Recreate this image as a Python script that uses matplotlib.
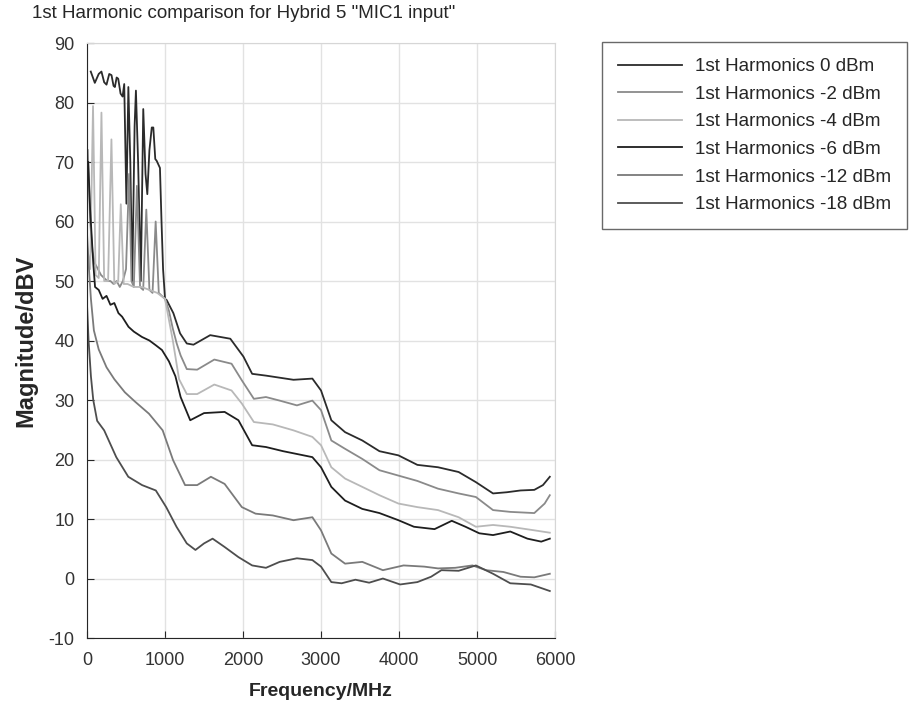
import matplotlib
matplotlib.use("Agg")
import matplotlib.pyplot as plt

plt.rcParams["font.family"] = ["Liberation Sans", "DejaVu Sans"]
plt.rcParams["axes.unicode_minus"] = False

# 0 dBm
freq_0 = [48, 100, 150, 185, 220, 250, 285, 314, 340, 357, 380, 400, 430, 456, 477, 505,
          530, 555, 580, 610, 627, 655, 690, 721, 750, 773, 800, 830, 850, 875, 893, 935,
          955, 975, 1000, 1021, 1107, 1193, 1279, 1365, 1579, 1837, 2005, 2117, 2294, 2647,
          2889, 3000, 3132, 3308, 3529, 3749, 3992, 4235, 4500, 4764, 4985, 5205, 5382,
          5558, 5734, 5845, 5933]
mag_0 = [85.2, 83.3, 84.8, 85.2, 83.4, 83.0, 84.8, 84.6, 82.8, 82.6, 84.2, 84.0, 81.5,
         81.0, 83.1, 63.0, 82.6, 70.0, 50.0, 76.0, 82.0, 70.0, 50.0, 78.9, 68.0, 64.6, 72.0,
         75.8, 75.8, 70.5, 70.2, 69.0, 60.0, 52.0, 47.0, 46.8, 44.6, 41.2, 39.5, 39.3, 40.9,
         40.3, 37.3, 34.4, 34.1, 33.4, 33.6, 31.6, 26.6, 24.6, 23.2, 21.4, 20.7, 19.1, 18.7,
         17.9, 16.2, 14.3, 14.5, 14.8, 14.9, 15.7, 17.1]

# -2 dBm
freq_2 = [10, 40, 70, 100, 140, 180, 220, 260, 300, 340, 380, 420, 460, 500, 540, 570, 600,
          640, 680, 720, 760, 800, 840, 880, 920, 960, 1000, 1050, 1100, 1150, 1200, 1279,
          1412, 1632, 1853, 1985, 2139, 2294, 2470, 2691, 2889, 3000, 3132, 3308, 3529, 3749,
          3992, 4235, 4500, 4764, 4985, 5205, 5426, 5734, 5867, 5933]
mag_2 = [72, 60, 55, 53, 52, 51, 50.5, 50, 50, 49.5, 50, 49, 50, 52, 68, 50, 49, 66, 49,
         48.5, 62, 48.5, 48, 60, 48, 47.5, 47, 45, 42, 39.5, 37.5, 35.2, 35.1, 36.8, 36.1,
         33.3, 30.2, 30.5, 29.9, 29.1, 29.9, 28.3, 23.2, 21.8, 20.1, 18.2, 17.3, 16.4, 15.1,
         14.3, 13.7, 11.5, 11.2, 11.0, 12.6, 14.0]

# -4 dBm
freq_4 = [0, 40, 77, 110, 150, 185, 220, 270, 313, 350, 400, 433, 470, 520, 600, 700, 800,
          900, 1000, 1100, 1180, 1279, 1412, 1632, 1853, 1985, 2139, 2382, 2647, 2889, 3000,
          3132, 3308, 3529, 3749, 3992, 4235, 4500, 4764, 4985, 5205, 5426, 5734, 5933]
mag_4 = [56, 52, 79.4, 51, 50.5, 78.3, 50, 50, 73.8, 49.5, 50, 62.9, 49.5, 49.5, 49, 49,
         48.5, 48, 47, 40, 33.5, 31.0, 31.0, 32.6, 31.6, 29.4, 26.3, 25.9, 24.9, 23.8, 22.4,
         18.7, 16.8, 15.4, 14.0, 12.6, 12.0, 11.5, 10.3, 8.7, 9.0, 8.7, 8.1, 7.7]

# -6 dBm
freq_6 = [15, 40, 80, 103, 150, 200, 250, 300, 350, 403, 450, 532, 600, 704, 800, 882, 961,
          1050, 1133, 1200, 1323, 1500, 1764, 1941, 2117, 2294, 2514, 2889, 3000, 3132, 3308,
          3529, 3749, 3992, 4191, 4455, 4676, 4852, 5029, 5205, 5426, 5646, 5823, 5933]
mag_6 = [70, 62, 53, 49.0, 48.5, 47.0, 47.5, 46.0, 46.3, 44.6, 44.0, 42.3, 41.5, 40.6,
         40.0, 39.2, 38.4, 36.5, 34.0, 30.5, 26.6, 27.8, 28.0, 26.6, 22.4, 22.1, 21.4, 20.4,
         18.7, 15.4, 13.1, 11.7, 11.0, 9.8, 8.7, 8.3, 9.7, 8.7, 7.6, 7.3, 7.9, 6.7, 6.2, 6.7]

# -12 dBm
freq_12 = [0, 20, 50, 88, 150, 250, 350, 485, 618, 794, 970, 1103, 1257, 1412, 1588, 1764,
           1985, 2161, 2382, 2647, 2889, 3000, 3132, 3308, 3529, 3793, 4058, 4323, 4500,
           4720, 4941, 5117, 5338, 5558, 5734, 5933]
mag_12 = [58, 53, 47, 41.7, 38.5, 35.5, 33.5, 31.3, 29.7, 27.7, 24.9, 19.9, 15.7, 15.7,
          17.1, 15.9, 12.0, 10.9, 10.6, 9.8, 10.3, 8.1, 4.2, 2.5, 2.8, 1.4, 2.2, 2.0, 1.7,
          1.8, 2.2, 1.4, 1.1, 0.3, 0.2, 0.8]

# -18 dBm
freq_18 = [0, 20, 50, 80, 130, 220, 375, 529, 706, 882, 1015, 1147, 1279, 1390, 1500, 1610,
           1764, 1941, 2117, 2294, 2470, 2691, 2889, 3000, 3132, 3264, 3441, 3617, 3793,
           4014, 4235, 4411, 4543, 4764, 4985, 5205, 5426, 5690, 5933]
mag_18 = [46, 40, 34, 30, 26.5, 24.9, 20.4, 17.1, 15.7, 14.8, 12.0, 8.7, 5.9, 4.8, 5.9,
          6.7, 5.3, 3.6, 2.2, 1.8, 2.8, 3.4, 3.1, 2.0, -0.6, -0.8, -0.2, -0.7, 0.0, -1.0,
          -0.6, 0.3, 1.4, 1.3, 2.2, 0.8, -0.8, -1.0, -2.1]

labels = ["1st Harmonics 0 dBm", "1st Harmonics -2 dBm", "1st Harmonics -4 dBm",
          "1st Harmonics -6 dBm", "1st Harmonics -12 dBm", "1st Harmonics -18 dBm"]
x_ticks = [0, 1000, 2000, 3000, 4000, 5000, 6000]
y_ticks = [-10, 0, 10, 20, 30, 40, 50, 60, 70, 80, 90]

series = [(freq_0, mag_0), (freq_2, mag_2), (freq_4, mag_4),
          (freq_6, mag_6), (freq_12, mag_12), (freq_18, mag_18)]
colors = ["#2b2b2b", "#8a8a8a", "#b8b8b8", "#1e1e1e", "#7a7a7a", "#4e4e4e"]

fig = plt.figure(figsize=(9.15, 7.12), dpi=100)
ax = fig.add_axes([0.0951, 0.1039, 0.5115, 0.8357])

for (f, m), c, lab in zip(series, colors, labels):
    ax.plot(f, m, color=c, linewidth=1.3, label=lab)

ax.set_xlim(0, 6000)
ax.set_ylim(-10, 90)
ax.set_xticks(x_ticks)
ax.set_yticks(y_ticks)
ax.grid(True, color="#e2e2e2", linewidth=1.0)
ax.set_axisbelow(True)
ax.tick_params(direction="in", length=5, labelsize=13, colors="#262626",
               labelcolor="#333333")
ax.tick_params(axis="x", pad=10)
ax.tick_params(axis="y", pad=9)
for side in ("left", "bottom"):
    ax.spines[side].set_color("#262626")
for side in ("top", "right"):
    ax.spines[side].set_color("#d6d6d6")

ax.set_xlabel("Frequency/MHz", fontsize=14, fontweight="bold", color="#262626", labelpad=10)
ax.set_ylabel("Magnitude/dBV", fontsize=17, fontweight="bold", color="#262626", labelpad=8)

fig.text(32 / 915, 1 - 13 / 712, '1st Harmonic comparison for Hybrid 5 "MIC1 input"',
         fontsize=13.5, color="#262626", ha="left", va="center")

leg = ax.legend(loc="upper left", bbox_to_anchor=(602 / 915, 1 - 42 / 712),
                bbox_transform=fig.transFigure, frameon=True, fancybox=False,
                fontsize=13.6, handlelength=3.4, handletextpad=0.65, labelspacing=0.55,
                borderaxespad=0.0, borderpad=0.85)
leg.get_frame().set_edgecolor("#444444")
leg.get_frame().set_linewidth(1.0)
for t in leg.get_texts():
    t.set_color("#262626")

fig.savefig("out.png", dpi=100)
